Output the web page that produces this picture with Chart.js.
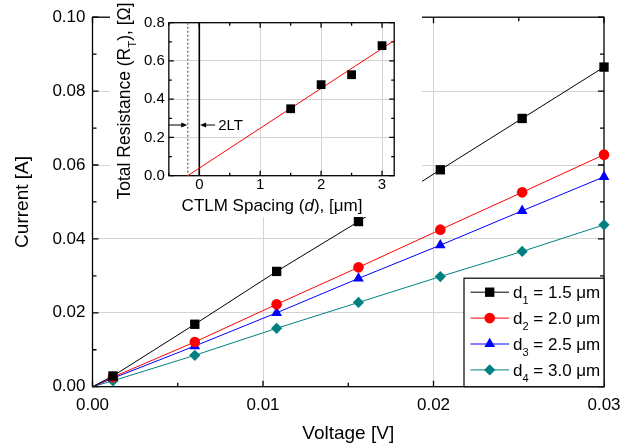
<!DOCTYPE html>
<html>
<head>
<meta charset="utf-8">
<script src="https://cdn.jsdelivr.net/npm/chart.js@4.4.0/dist/chart.umd.min.js"></script>
<style>
    html, body { margin: 0; padding: 0; background: #fff; }
    #wrap { position: relative; width: 637px; height: 446px; }
    #mainChart { position: absolute; left: 0; top: 0; }
    #insetChart { position: absolute; left: 110px; top: 0; background: #fff; }
</style>
</head>
<body>
<div id="wrap">
    <canvas id="mainChart" width="637" height="446"></canvas>
    <canvas id="insetChart" width="312" height="217"></canvas>
</div>
<script>
// ============================================================================
// I-V DATA (main plot)
// ============================================================================

const voltage = [0, 0.0012, 0.0060, 0.0108, 0.0156, 0.0204, 0.0252, 0.0300];
const currentD1 = [0, 0.0029, 0.0169, 0.0312, 0.0447, 0.0587, 0.0726, 0.0865];
const currentD2 = [0, 0.0026, 0.0121, 0.0223, 0.0323, 0.0425, 0.0526, 0.0628];
const currentD3 = [0, 0.0023, 0.0110, 0.0200, 0.0293, 0.0383, 0.0476, 0.0568];
const currentD4 = [0, 0.0016, 0.0085, 0.0158, 0.0228, 0.0298, 0.0366, 0.0438];
const spacingLabels = ['1.5', '2.0', '2.5', '3.0'];

const voltageTicks = [0, 0.01, 0.02, 0.03];
const currentTicks = [0, 0.02, 0.04, 0.06, 0.08, 0.10];

// ============================================================================
// CTLM DATA (inset)
// ============================================================================

const ctlmSpacing = [1.5, 2.0, 2.5, 3.0];
const totalResistance = [0.350, 0.476, 0.528, 0.680];

const spacingTicks = [0, 1, 2, 3];
const resistanceTicks = [0, 0.2, 0.4, 0.6, 0.8];

const FONT = "'Liberation Sans', Arial, sans-serif";
const GRID = '#d4d4d4';

Chart.defaults.font.family = FONT;
Chart.defaults.color = '#000';

const seriesStyles = [
    { color: '#000000', pointStyle: 'rect', radius: 6.6 },
    { color: '#ff0000', pointStyle: 'circle', radius: 5.3 },
    { color: '#0000ff', pointStyle: 'triangle', radius: 6.2 },
    { color: '#008080', pointStyle: 'rectRot', radius: 5.6 }
];

function stepValues(min, max, step) {
    const out = [];
    const n = Math.round((max - min) / step);
    for (let i = 0; i <= n; i++) out.push(min + i * step);
    return out;
}

function isMajor(v, step) {
    const r = v / step;
    return Math.abs(r - Math.round(r)) < 1e-6;
}

// grid only inside the frame, the edges are drawn by the frame plugin
function innerGrid(c) {
    const v = c.tick ? c.tick.value : null;
    if (v === null || v <= c.scale.min + 1e-9 || v >= c.scale.max - 1e-9) return 'rgba(0,0,0,0)';
    return GRID;
}

/**
 * Box frame with inward major/minor ticks on all four sides
 */
const framePlugin = {
    id: 'frame',
    beforeDatasetsDraw(chart, args, opts) {
        const { ctx, chartArea: a, scales: { x, y } } = chart;
        ctx.save();
        ctx.strokeStyle = '#000';
        ctx.lineWidth = opts.lineWidth;
        ctx.beginPath();
        stepValues(x.min, x.max, opts.xMinor).forEach(v => {
            const px = x.getPixelForValue(v);
            const len = isMajor(v, opts.xMajor) ? opts.major : opts.minor;
            ctx.moveTo(px, a.bottom); ctx.lineTo(px, a.bottom - len);
            ctx.moveTo(px, a.top); ctx.lineTo(px, a.top + len);
        });
        stepValues(y.min, y.max, opts.yMinor).forEach(v => {
            const py = y.getPixelForValue(v);
            const len = isMajor(v, opts.yMajor) ? opts.major : opts.minor;
            ctx.moveTo(a.left, py); ctx.lineTo(a.left + len, py);
            ctx.moveTo(a.right, py); ctx.lineTo(a.right - len, py);
        });
        ctx.stroke();
        ctx.strokeRect(a.left, a.top, a.right - a.left, a.bottom - a.top);
        ctx.restore();
    }
};

function drawMarker(ctx, style, radius, x, y) {
    Chart.helpers.drawPoint(ctx, { pointStyle: style, radius: radius, rotation: 0, borderWidth: 0 }, x, y);
}

// draws text pieces left to right; sub pieces are smaller and lowered
function drawRichText(ctx, parts, x, y, size, align) {
    const pieces = parts.map(p => {
        const font = (p.italic ? 'italic ' : '') + (p.sub ? size * 0.65 : size) + 'px ' + FONT;
        ctx.font = font;
        return { text: p.text, font: font, sub: p.sub, w: ctx.measureText(p.text).width };
    });
    const total = pieces.reduce((s, p) => s + p.w, 0);
    let cx = align === 'center' ? x - total / 2 : x;
    ctx.textAlign = 'left';
    ctx.textBaseline = 'alphabetic';
    pieces.forEach(p => {
        ctx.font = p.font;
        ctx.fillText(p.text, cx, y + (p.sub ? size * 0.36 : 0));
        cx += p.w;
    });
}

/**
 * Legend box in the lower right corner of the plot
 */
const legendPlugin = {
    id: 'spacingLegend',
    afterDraw(chart) {
        const { ctx, chartArea: a } = chart;
        const w = 140, h = 108.5;
        const left = a.right - w, top = a.bottom - h;
        ctx.save();
        ctx.fillStyle = '#fff';
        ctx.fillRect(left, top, w, h);
        ctx.strokeStyle = '#000';
        ctx.lineWidth = 1.2;
        ctx.strokeRect(left, top, w, h);
        chart.data.datasets.forEach((ds, i) => {
            const st = seriesStyles[i];
            const cy = top + 14 + i * 25.9;
            ctx.strokeStyle = st.color;
            ctx.lineWidth = 1;
            ctx.beginPath();
            ctx.moveTo(left + 6.5, cy);
            ctx.lineTo(left + 45, cy);
            ctx.stroke();
            ctx.fillStyle = st.color;
            drawMarker(ctx, st.pointStyle, st.radius, left + 25.7, cy);
            ctx.fillStyle = '#000';
            drawRichText(ctx, [
                { text: 'd' },
                { text: String(i + 1), sub: true },
                { text: ' = ' + spacingLabels[i] + ' \u03bcm' }
            ], left + 49, cy + 6, 17, 'left');
        });
        ctx.restore();
    }
};

const mainChart = new Chart(document.getElementById('mainChart'), {
    type: 'line',
    data: {
        datasets: [currentD1, currentD2, currentD3, currentD4].map((values, i) => ({
            label: 'd' + (i + 1) + ' = ' + spacingLabels[i] + ' \u03bcm',
            data: voltage.map((v, j) => ({ x: v, y: values[j] })),
            borderColor: seriesStyles[i].color,
            backgroundColor: seriesStyles[i].color,
            pointBackgroundColor: seriesStyles[i].color,
            pointBorderWidth: 0,
            pointStyle: seriesStyles[i].pointStyle,
            pointRadius: voltage.map(v => (v === 0 ? 0 : seriesStyles[i].radius)),
            borderWidth: 1,
            tension: 0,
            clip: false
        }))
    },
    options: {
        responsive: false,
        animation: false,
        layout: { padding: { top: 15.7, right: 33, left: 0, bottom: 0 } },
        plugins: {
            legend: { display: false },
            tooltip: { enabled: false },
            frame: { xMinor: 0.005, xMajor: 0.01, yMinor: 0.01, yMajor: 0.02, major: 6, minor: 4, lineWidth: 1.3 }
        },
        scales: {
            x: {
                type: 'linear',
                min: 0,
                max: 0.03,
                afterBuildTicks: s => { s.ticks = voltageTicks.map(value => ({ value })); },
                afterFit: s => { s.height = 59.3; },
                ticks: { font: { size: 17 }, padding: 8, maxRotation: 0, callback: v => v.toFixed(2) },
                grid: { drawTicks: false, color: innerGrid, lineWidth: 1 },
                border: { display: false },
                title: { display: true, text: 'Voltage [V]', font: { size: 19 }, padding: { top: 0, bottom: 1 } }
            },
            y: {
                type: 'linear',
                min: 0,
                max: 0.1,
                afterBuildTicks: s => { s.ticks = currentTicks.map(value => ({ value })); },
                afterFit: s => { s.width = 92.5; },
                ticks: { font: { size: 17 }, padding: 7, callback: v => v.toFixed(2) },
                grid: { drawTicks: false, color: innerGrid, lineWidth: 1 },
                border: { display: false },
                title: { display: true, text: 'Current [A]', font: { size: 19 }, padding: { top: 11.6, bottom: 0 } }
            }
        }
    },
    plugins: [framePlugin, legendPlugin]
});

// ============================================================================
// INSET: total resistance vs. spacing with linear fit
// ============================================================================

function linearFit(xs, ys) {
    const n = xs.length;
    const mx = xs.reduce((a, b) => a + b, 0) / n;
    const my = ys.reduce((a, b) => a + b, 0) / n;
    let sxy = 0, sxx = 0;
    xs.forEach((x, i) => { sxy += (x - mx) * (ys[i] - my); sxx += (x - mx) * (x - mx); });
    const slope = sxy / sxx;
    return { slope: slope, intercept: my - slope * mx };
}

const SPACING_MIN = -0.5, SPACING_MAX = 3.2;
const fit = linearFit(ctlmSpacing, totalResistance);
const fitZero = -fit.intercept / fit.slope;   // where the fit crosses R_T = 0
const fitLine = [
    { x: fitZero, y: 0 },
    { x: SPACING_MAX, y: fit.intercept + fit.slope * SPACING_MAX }
];
const arrowLevel = 0.265;

function drawArrow(ctx, x1, y, x2) {
    const dir = Math.sign(x2 - x1);
    ctx.beginPath();
    ctx.moveTo(x1, y);
    ctx.lineTo(x2 - dir * 3, y);
    ctx.stroke();
    ctx.beginPath();
    ctx.moveTo(x2, y);
    ctx.lineTo(x2 - dir * 6, y - 2.6);
    ctx.lineTo(x2 - dir * 6, y + 2.6);
    ctx.closePath();
    ctx.fill();
}

const transferLengthPlugin = {
    id: 'transferLength',
    beforeDatasetsDraw(chart) {
        const { ctx, chartArea: a, scales: { x, y } } = chart;
        ctx.save();
        // dotted line at the fit intercept
        const xz = x.getPixelForValue(fitZero);
        ctx.strokeStyle = '#6a6a6a';
        ctx.lineWidth = 1.3;
        ctx.setLineDash([2, 2]);
        ctx.beginPath();
        ctx.moveTo(xz, a.top);
        ctx.lineTo(xz, a.bottom);
        ctx.stroke();
        ctx.setLineDash([]);
        // solid line at d = 0
        const x0 = x.getPixelForValue(0);
        ctx.strokeStyle = '#000';
        ctx.lineWidth = 1.6;
        ctx.beginPath();
        ctx.moveTo(x0, a.top);
        ctx.lineTo(x0, a.bottom);
        ctx.stroke();
        // 2LT arrows
        const ya = y.getPixelForValue(arrowLevel);
        ctx.lineWidth = 1;
        ctx.fillStyle = '#000';
        drawArrow(ctx, a.left, ya, xz - 0.5);
        drawArrow(ctx, x.getPixelForValue(0.26), ya, x0 + 0.8);
        ctx.font = '15px ' + FONT;
        ctx.textAlign = 'left';
        ctx.textBaseline = 'middle';
        ctx.fillText('2LT', x.getPixelForValue(0.31), ya + 0.5);
        ctx.restore();
    },
    afterDraw(chart) {
        const { ctx } = chart;
        ctx.save();
        ctx.fillStyle = '#000';
        drawRichText(ctx, [
            { text: 'CTLM Spacing (' },
            { text: 'd', italic: true },
            { text: '), [\u03bcm]' }
        ], 162, 211, 17, 'center');
        ctx.translate(19.5, 101);
        ctx.rotate(-Math.PI / 2);
        drawRichText(ctx, [
            { text: 'Total Resistance (R' },
            { text: 'T', sub: true },
            { text: '), [\u03a9]' }
        ], 0, 0, 17.5, 'center');
        ctx.restore();
    }
};

const insetChart = new Chart(document.getElementById('insetChart'), {
    type: 'scatter',
    data: {
        datasets: [
            {
                data: ctlmSpacing.map((d, i) => ({ x: d, y: totalResistance[i] })),
                pointStyle: 'rect',
                pointRadius: 6.2,
                backgroundColor: '#000',
                borderWidth: 0,
                showLine: false,
                clip: false
            },
            {
                data: fitLine,
                showLine: true,
                borderColor: '#ff0000',
                borderWidth: 1,
                pointRadius: 0
            }
        ]
    },
    options: {
        responsive: false,
        animation: false,
        layout: { padding: { top: 22.7, right: 27.8, left: 0, bottom: 0 } },
        plugins: {
            legend: { display: false },
            tooltip: { enabled: false },
            frame: { xMinor: 0.5, xMajor: 1, yMinor: 0.1, yMajor: 0.2, major: 5, minor: 3, lineWidth: 1.3 }
        },
        scales: {
            x: {
                type: 'linear',
                min: SPACING_MIN,
                max: SPACING_MAX,
                afterBuildTicks: s => { s.ticks = spacingTicks.map(value => ({ value })); },
                afterFit: s => { s.height = 41.3; },
                ticks: { font: { size: 15 }, padding: 0, maxRotation: 0, callback: v => String(v) },
                grid: { drawTicks: false, color: innerGrid, lineWidth: 1 },
                border: { display: false }
            },
            y: {
                type: 'linear',
                min: 0,
                max: 0.8,
                afterBuildTicks: s => { s.ticks = resistanceTicks.map(value => ({ value })); },
                afterFit: s => { s.width = 58.85; },
                ticks: { font: { size: 15 }, padding: 4, callback: v => v.toFixed(1) },
                grid: { drawTicks: false, color: innerGrid, lineWidth: 1 },
                border: { display: false }
            }
        }
    },
    plugins: [framePlugin, transferLengthPlugin]
});
</script>
</body>
</html>
